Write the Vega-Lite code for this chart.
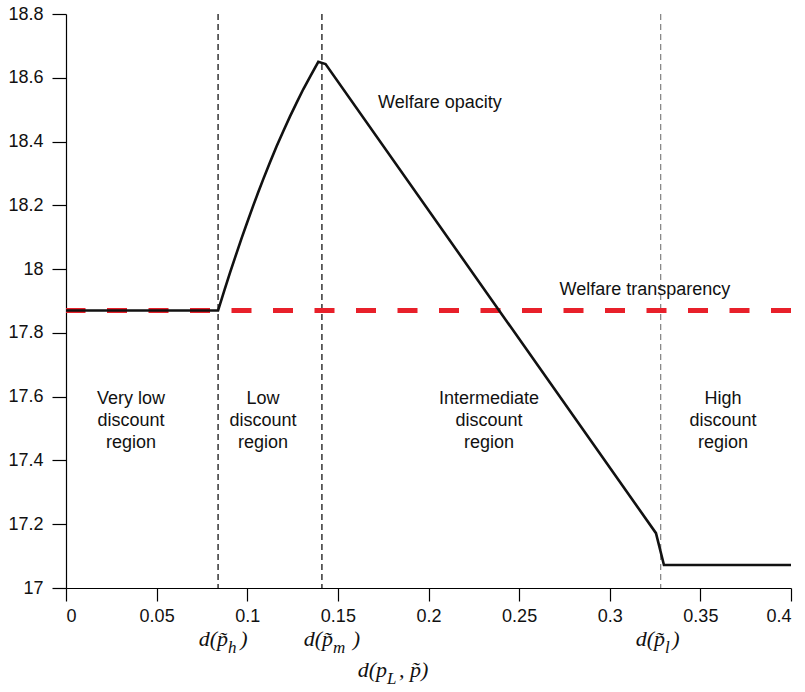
{
  "$schema": "https://vega.github.io/schema/vega-lite/v6.json",
  "width": 725,
  "height": 574,
  "autosize": {"type": "none"},
  "padding": {"left": 66, "top": 14, "right": 14, "bottom": 104},
  "background": "white",
  "config": {
    "view": {"stroke": null},
    "axis": {"grid": false, "domainColor": "#000", "tickColor": "#000", "labelFont": "Liberation Sans", "labelFontSize": 18, "labelColor": "#111", "domainWidth": 1.2, "tickWidth": 1.2}
  },
  "datasets": {
    "curve": [
      {"x": 0, "y": 17.87},
      {"x": 0.0839, "y": 17.87},
      {"x": 0.0875, "y": 17.936},
      {"x": 0.0905, "y": 17.989},
      {"x": 0.0935, "y": 18.04},
      {"x": 0.0969, "y": 18.097},
      {"x": 0.1, "y": 18.147},
      {"x": 0.1033, "y": 18.199},
      {"x": 0.106, "y": 18.24},
      {"x": 0.1089, "y": 18.283},
      {"x": 0.1125, "y": 18.334},
      {"x": 0.1162, "y": 18.385},
      {"x": 0.12, "y": 18.434},
      {"x": 0.1236, "y": 18.479},
      {"x": 0.127, "y": 18.519},
      {"x": 0.1309, "y": 18.564},
      {"x": 0.135, "y": 18.607},
      {"x": 0.1392, "y": 18.65},
      {"x": 0.1432, "y": 18.643},
      {"x": 0.3255, "y": 17.172},
      {"x": 0.3299, "y": 17.072},
      {"x": 0.4, "y": 17.072}
    ],
    "vlines": [
      {"x": 0.0839, "kind": "a"},
      {"x": 0.1412, "kind": "a"},
      {"x": 0.3281, "kind": "b"}
    ],
    "notes": [
      {"x": 0.2063, "y": 18.52, "t": ["Welfare opacity"]},
      {"x": 0.3194, "y": 17.935, "t": ["Welfare transparency"]},
      {"x": 0.0359, "y": 17.593, "t": ["Very low", "discount", "region"]},
      {"x": 0.1087, "y": 17.593, "t": ["Low", "discount", "region"]},
      {"x": 0.2334, "y": 17.593, "t": ["Intermediate", "discount", "region"]},
      {"x": 0.3625, "y": 17.593, "t": ["High", "discount", "region"]}
    ],
    "mainparts": [
      {"x": 0.0894, "y": 16.818, "t": "d(p̃"},
      {"x": 0.1473, "y": 16.818, "t": "d(p̃"},
      {"x": 0.3305, "y": 16.818, "t": "d(p̃"},
      {"x": 0.1771, "y": 16.722, "t": "d(p"}
    ],
    "subparts": [
      {"x": 0.0894, "y": 16.795, "t": "h"},
      {"x": 0.1473, "y": 16.795, "t": "m"},
      {"x": 0.3305, "y": 16.795, "t": "l"},
      {"x": 0.1771, "y": 16.699, "t": "L"}
    ],
    "tailparts": [
      {"x": 0.0962, "y": 16.818, "t": ")"},
      {"x": 0.1582, "y": 16.818, "t": ")"},
      {"x": 0.3345, "y": 16.818, "t": ")"},
      {"x": 0.1837, "y": 16.722, "t": ", p̃)"}
    ]
  },
  "layer": [
    {
      "data": {"name": "vlines"},
      "mark": {"type": "rule", "strokeWidth": 1.2, "strokeDash": [6, 4]},
      "encoding": {
        "x": {"field": "x", "type": "quantitative", "scale": {"domain": [0, 0.4], "nice": false},
              "axis": {"values": [0, 0.05, 0.1, 0.15, 0.2, 0.25, 0.3, 0.35, 0.4], "format": "~g", "title": null, "tickSize": 13, "labelPadding": 6}},
        "color": {"field": "kind", "type": "nominal", "scale": {"domain": ["a", "b"], "range": ["#000000", "#808080"]}, "legend": null}
      }
    },
    {
      "data": {"values": [{"y": 17.87}]},
      "mark": {"type": "rule", "color": "#e8202a", "strokeWidth": 5, "strokeDash": [20, 21.5]},
      "encoding": {
        "y": {"field": "y", "type": "quantitative", "scale": {"domain": [17, 18.8], "nice": false},
              "axis": {"values": [17, 17.2, 17.4, 17.6, 17.8, 18, 18.2, 18.4, 18.6, 18.8], "format": "~g", "title": null, "tickSize": 14, "labelPadding": 9}}
      }
    },
    {
      "data": {"name": "curve"},
      "mark": {"type": "line", "color": "#111", "strokeWidth": 2.6, "strokeJoin": "miter"},
      "encoding": {
        "x": {"field": "x", "type": "quantitative"},
        "y": {"field": "y", "type": "quantitative"}
      }
    },
    {
      "data": {"name": "notes"},
      "mark": {"type": "text", "font": "Liberation Sans", "fontSize": 18, "lineHeight": 22, "color": "#111", "align": "center", "baseline": "middle"},
      "encoding": {
        "x": {"field": "x", "type": "quantitative"},
        "y": {"field": "y", "type": "quantitative"},
        "text": {"field": "t"}
      }
    },
    {
      "data": {"name": "mainparts"},
      "mark": {"type": "text", "font": "Liberation Serif", "fontStyle": "italic", "fontSize": 22, "color": "#111", "align": "right", "baseline": "alphabetic"},
      "encoding": {
        "x": {"field": "x", "type": "quantitative"},
        "y": {"field": "y", "type": "quantitative"},
        "text": {"field": "t"}
      }
    },
    {
      "data": {"name": "subparts"},
      "mark": {"type": "text", "font": "Liberation Serif", "fontStyle": "italic", "fontSize": 17, "color": "#111", "align": "left", "baseline": "alphabetic"},
      "encoding": {
        "x": {"field": "x", "type": "quantitative"},
        "y": {"field": "y", "type": "quantitative"},
        "text": {"field": "t"}
      }
    },
    {
      "data": {"name": "tailparts"},
      "mark": {"type": "text", "font": "Liberation Serif", "fontStyle": "italic", "fontSize": 22, "color": "#111", "align": "left", "baseline": "alphabetic"},
      "encoding": {
        "x": {"field": "x", "type": "quantitative"},
        "y": {"field": "y", "type": "quantitative"},
        "text": {"field": "t"}
      }
    }
  ]
}
